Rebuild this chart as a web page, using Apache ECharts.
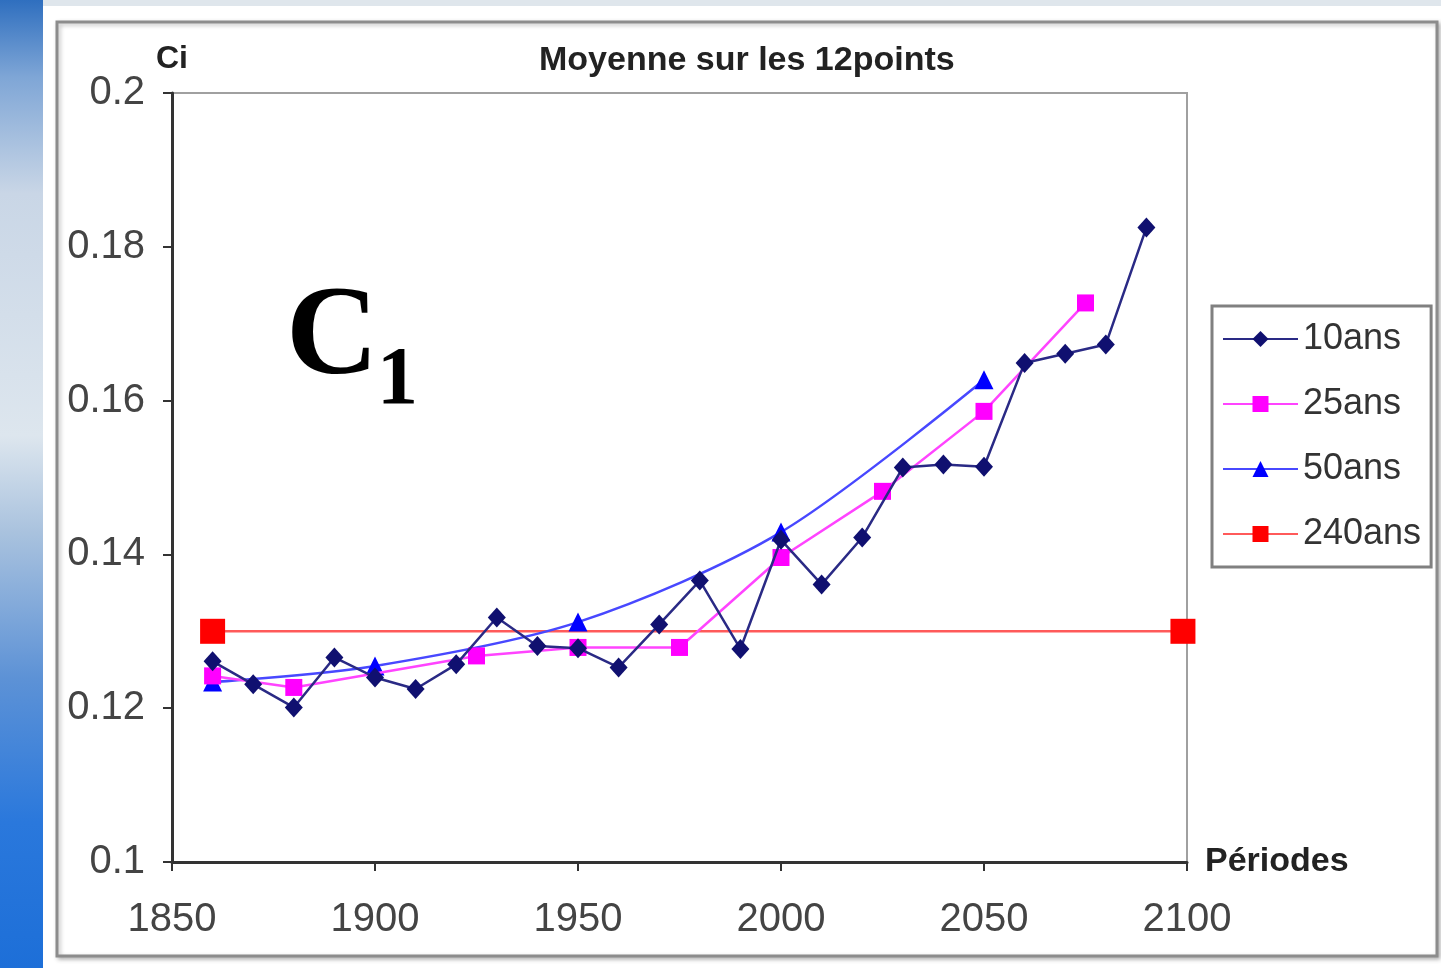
<!DOCTYPE html>
<html>
<head>
<meta charset="utf-8">
<script src="https://cdn.jsdelivr.net/npm/echarts@6/dist/echarts.min.js"></script>
<style>
html,body{margin:0;padding:0;background:#fff;}
#chart{width:1441px;height:968px;}
</style>
</head>
<body>
<div id="chart"></div>
<script>
// ---- data ----
var chartTitle = 'Moyenne sur les 12points';
var yAxisName = 'Ci';
var xAxisName = 'Périodes';
var seriesNames = ['10ans', '25ans', '50ans', '240ans'];

var years10 = [1860,1870,1880,1890,1900,1910,1920,1930,1940,1950,1960,1970,1980,1990,2000,2010,2020,2030,2040,2050,2060,2070,2080,2090];
var vals10  = [0.1261,0.1231,0.1201,0.1266,0.1240,0.1225,0.1257,0.1318,0.1281,0.1278,0.1253,0.1309,0.1366,0.1277,0.1419,0.1361,0.1422,0.1513,0.1517,0.1514,0.1649,0.1661,0.1673,0.1825];

var years25 = [1860,1880,1925,1950,1975,2000,2025,2050,2075];
var vals25  = [0.1242,0.1227,0.1268,0.1279,0.1279,0.1396,0.1482,0.1586,0.1727];

var years50 = [1860,1900,1950,2000,2050];
var vals50  = [0.1234,0.1255,0.1312,0.1429,0.1627];

var years240 = [1860,2099];
var vals240  = [0.1300,0.1300];

function pairs(xs, ys){ return xs.map(function(x,i){ return [x, ys[i]]; }); }

var narrow = '"Liberation Sans Narrow", "Liberation Sans", Arial, sans-serif';

var chart = echarts.init(document.getElementById('chart'), null, {renderer:'canvas'});
chart.setOption({
  backgroundColor: '#ffffff',
  animation: false,
  title: {
    text: chartTitle,
    left: 534, top: 39,
    textStyle: {fontFamily: narrow, fontWeight: 'bold', fontSize: 34, color: '#222'}
  },
  graphic: [
    {type:'rect', left:0, top:0, z:-10, shape:{width:43, height:968},
     style:{fill:{type:'linear', x:0, y:0, x2:0, y2:1, colorStops:[
       {offset:0, color:'#2f6fbf'}, {offset:0.08, color:'#7fa6d6'}, {offset:0.2, color:'#c9d6e6'},
       {offset:0.45, color:'#dde6ee'}, {offset:0.55, color:'#a9c2de'}, {offset:0.7, color:'#5d92d6'},
       {offset:0.85, color:'#2a78dc'}, {offset:1, color:'#1d6fd8'}]}}},
    {type:'rect', left:43, top:0, z:-10, shape:{width:1398, height:6},
     style:{fill:'#dfe6ec'}},
    {type:'rect', z:-5, shape:{x:57, y:22, width:1380, height:934},
     style:{fill:'#ffffff', stroke:'#8c8c8c', lineWidth:3, shadowColor:'rgba(0,0,0,0.25)', shadowBlur:4, shadowOffsetX:2, shadowOffsetY:2}},
    {type:'text', z:10, style:{x:286, y:340, text:'C', verticalAlign:'middle', fontFamily:'"Liberation Serif", "DejaVu Serif", serif', fontWeight:'bold', fontSize:128, fill:'#000'}},
    {type:'text', z:10, style:{x:377, y:382, text:'1', verticalAlign:'middle', fontFamily:'"Liberation Serif", "DejaVu Serif", serif', fontWeight:'bold', fontSize:82, fill:'#000'}}
  ],
  legend: {
    orient: 'vertical',
    left: 1212, top: 306,
    data: seriesNames,
    backgroundColor: '#ffffff',
    borderColor: '#808080', borderWidth: 3,
    padding: [14, 10, 14, 10],
    itemGap: 27,
    itemWidth: 75, itemHeight: 20,
    textStyle: {fontFamily: narrow, fontSize: 36, color: '#333', lineHeight: 38}
  },
  grid: {
    left: 172, right: 254, top: 93, bottom: 106,
    show: true, borderColor: '#a0a0a0', borderWidth: 2, backgroundColor: '#ffffff'
  },
  xAxis: {
    type: 'value', min: 1850, max: 2100, interval: 50,
    name: xAxisName, nameLocation: 'end', nameGap: 18,
    nameTextStyle: {fontFamily: narrow, fontWeight:'bold', fontSize: 34, color:'#222', verticalAlign:'middle'},
    axisLine: {show:true, onZero:false, lineStyle:{color:'#333', width:3}},
    axisTick: {show:true, inside:false, length:9, lineStyle:{color:'#333', width:2}},
    axisLabel: {fontFamily: narrow, fontSize: 40, color:'#444', margin: 38,
      formatter: function(v){ return String(v); }},
    splitLine: {show:false}
  },
  yAxis: {
    type: 'value', min: 0.1, max: 0.2, interval: 0.02,
    name: yAxisName, nameLocation: 'end', nameGap: 18,
    nameTextStyle: {fontFamily: narrow, fontWeight:'bold', fontSize: 32, color:'#222', align:'center'},
    axisLine: {show:true, onZero:false, lineStyle:{color:'#333', width:3}},
    axisTick: {show:true, inside:false, length:9, lineStyle:{color:'#333', width:2}},
    axisLabel: {fontFamily: narrow, fontSize: 40, color:'#444', margin: 27,
      formatter: function(v){ return String(parseFloat(v.toFixed(2))); }},
    splitLine: {show:false}
  },
  series: [
    {name: seriesNames[0], type:'line', data: pairs(years10, vals10), z:4,
     symbol:'diamond', symbolSize:[18,20], color:'#101070',
     itemStyle:{color:'#101070'}, lineStyle:{color:'#2a2a85', width:2.5}},
    {name: seriesNames[1], type:'line', data: pairs(years25, vals25), z:3, smooth:false,
     symbol:'rect', symbolSize:17, color:'#ff00ff',
     itemStyle:{color:'#ff00ff'}, lineStyle:{color:'#ff44ff', width:2.5}},
    {name: seriesNames[2], type:'line', data: pairs(years50, vals50), z:2, smooth:0.3,
     symbol:'triangle', symbolSize:[19,19], color:'#0000ff',
     itemStyle:{color:'#0000ff'}, lineStyle:{color:'#4848ff', width:2.5}},
    {name: seriesNames[3], type:'line', data: pairs(years240, vals240), z:1,
     symbol:'rect', symbolSize:25, color:'#ff0000',
     itemStyle:{color:'#ff0000'}, lineStyle:{color:'#ff5a5a', width:2.5}}
  ]
});
</script>
</body>
</html>
